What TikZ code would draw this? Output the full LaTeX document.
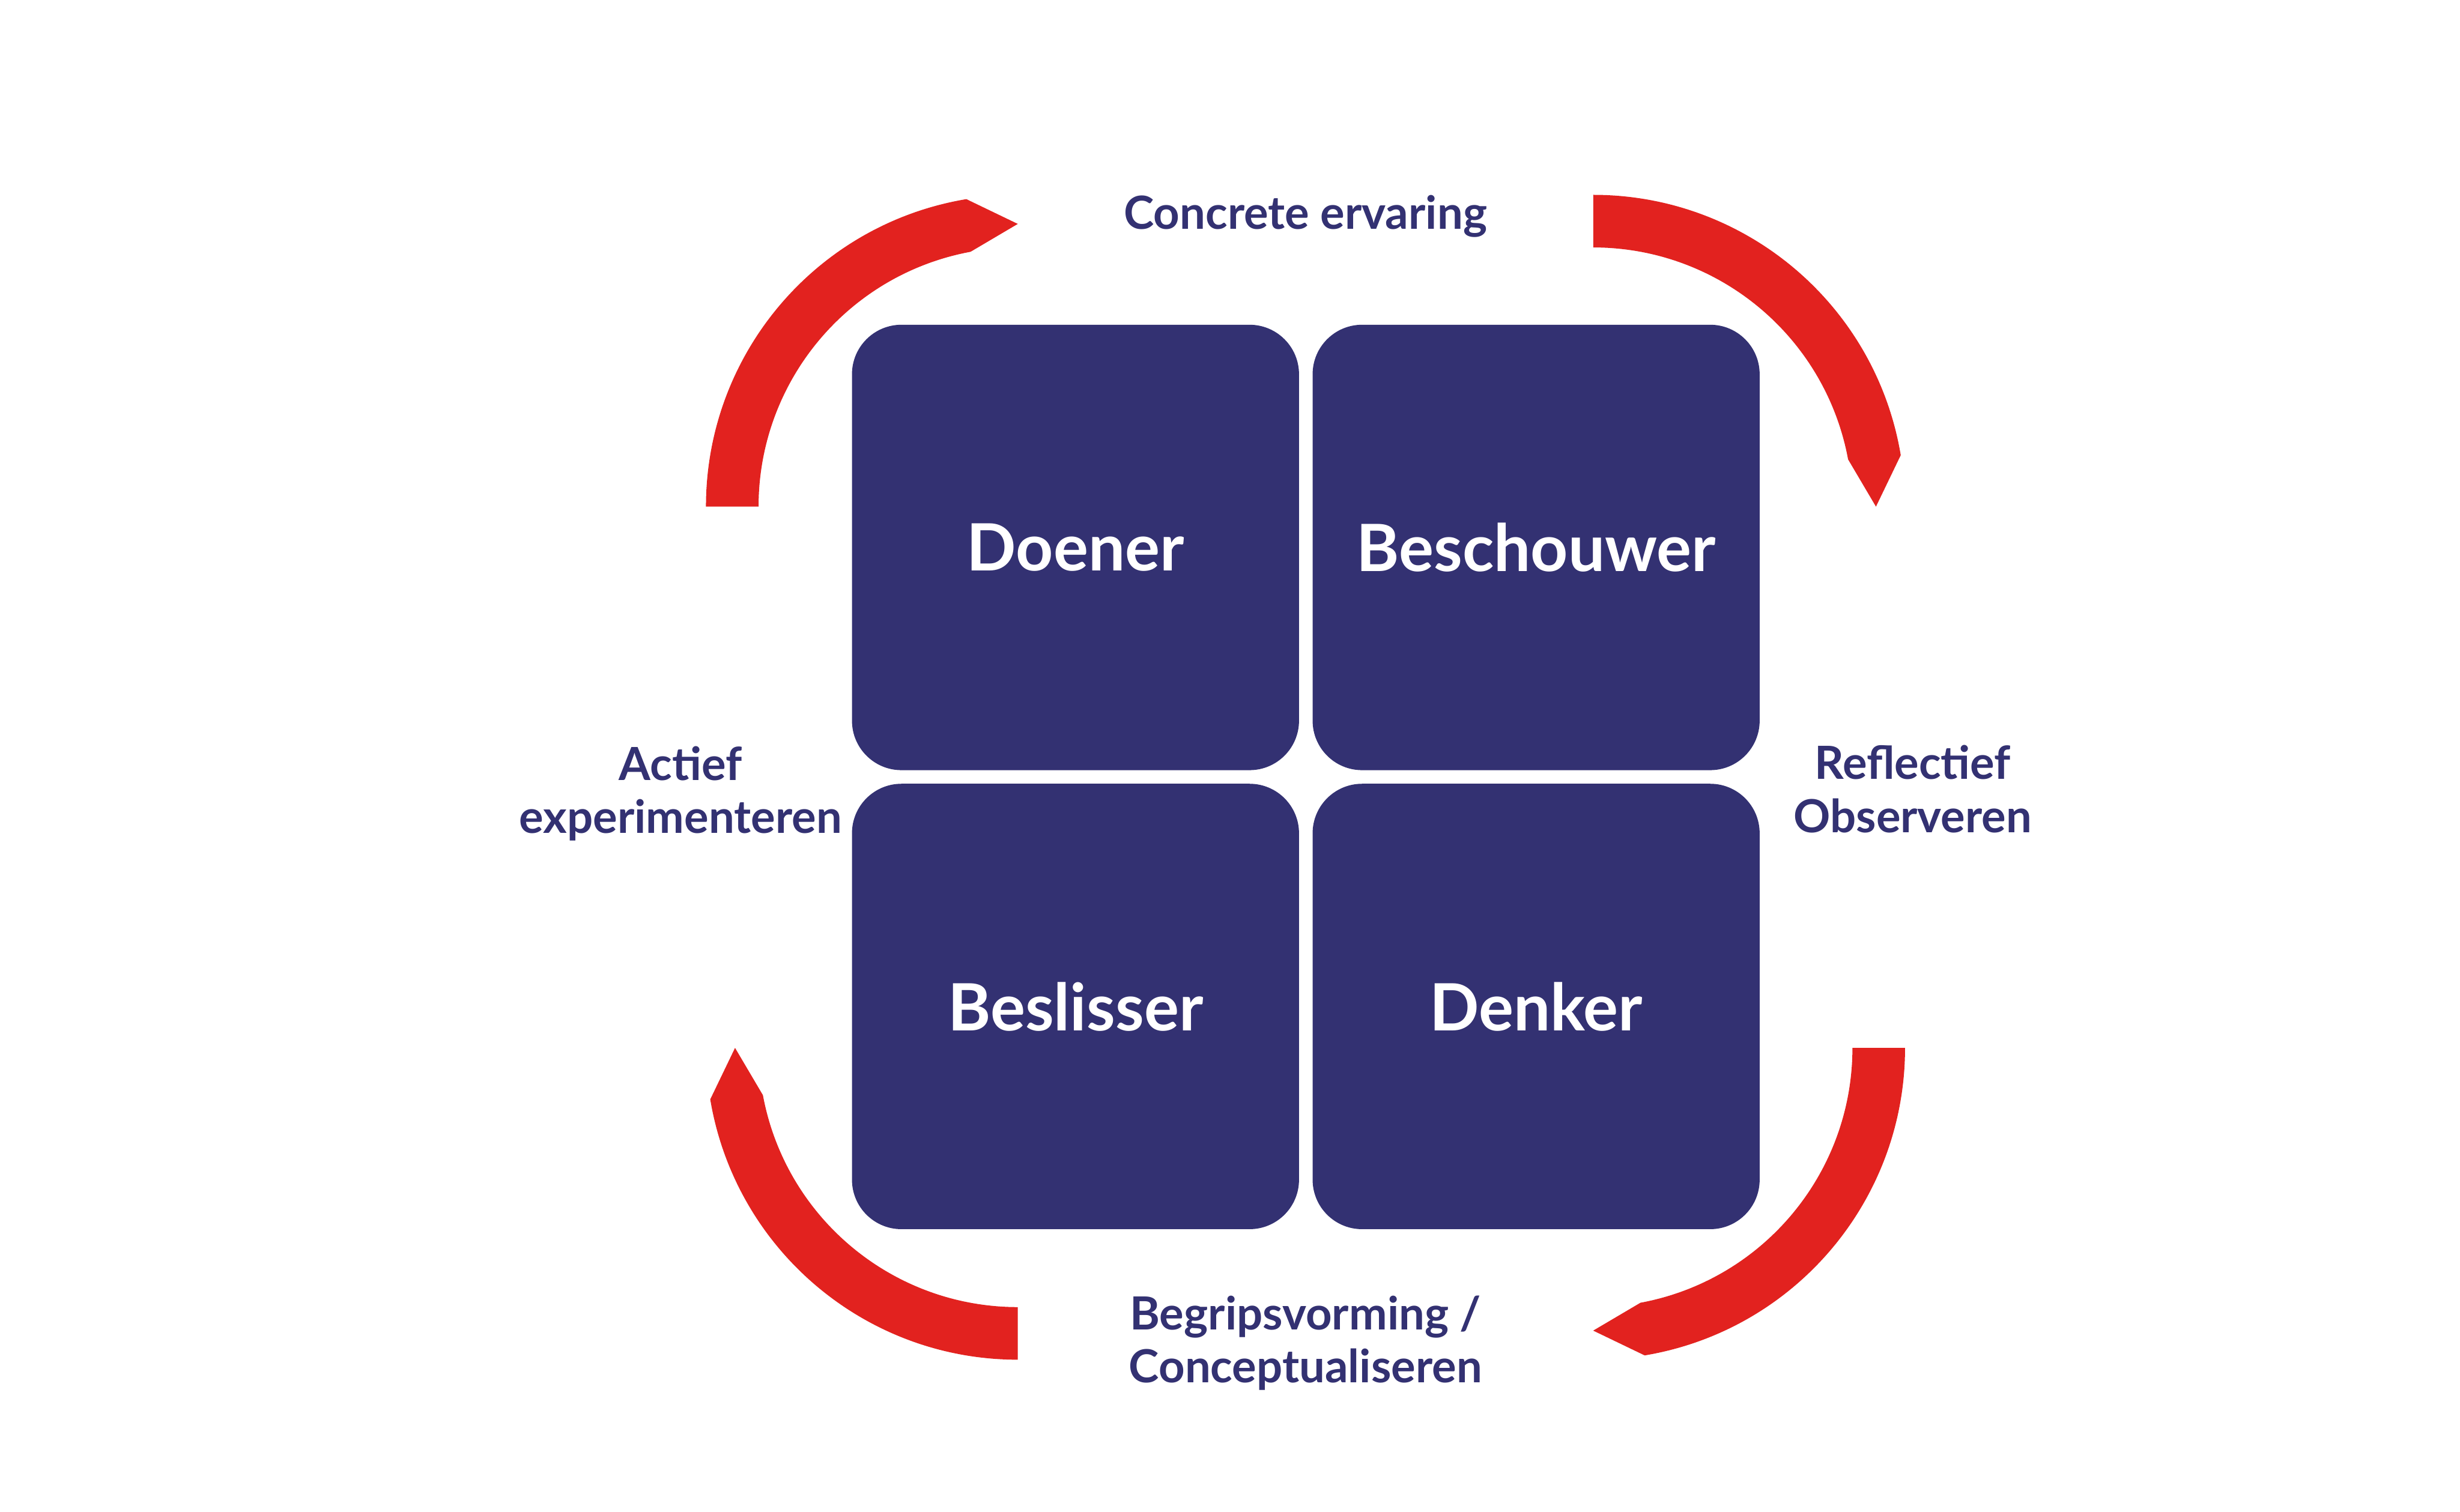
\documentclass[tikz,border=0pt]{standalone}
\usepackage{fontspec}
\setmainfont{Lato}
\usepackage{xcolor}
\usepackage{tikz}
\usetikzlibrary{positioning, calc}
\definecolor{kolbnavy}{HTML}{333172}
\definecolor{kolbred}{HTML}{E2221F}

\begin{document}
\begin{tikzpicture}[
        quadrant/.style={fill=kolbnavy, rounded corners=0.8cm, minimum width=7.225cm, minimum height=7.2cm, inner sep=0pt, outer sep=0pt, text=white, font=\fontsize{30}{36}\selectfont\bfseries},
        phase/.style={align=center, text=kolbnavy, font=\fontsize{21}{24.5}\selectfont\bfseries},
        cyclearc/.style={fill=kolbred}
    ]
        \useasboundingbox (0,0) rectangle (39.76,24.44);
        \fill[white] (0,0) rectangle (39.76,24.44);
        \coordinate (mid) at (21.10,11.875);

        \node (doener) [quadrant] at ($(mid)+(-3.7175,3.715)$) {Doener};
        \node (beschouwer) [quadrant, right=0.22cm of doener] {Beschouwer};
        \node (beslisser) [quadrant, below=0.22cm of doener] {Beslisser};
        \node (denker) [quadrant, right=0.22cm of beslisser] {Denker};

        \node (concrete) [phase] at ($(mid)+(0,9.065)$) {Concrete ervaring};
        \node (reflectief) [phase] at ($(mid)+(9.815,-0.19)$) {Reflectief\\Observeren};
        \node (begrip) [phase] at ($(mid)+(0,-9.145)$) {Begripsvorming /\\Conceptualiseren};
        \node (actief) [phase] at ($(mid)+(-10.1,-0.265)$) {Actief\\experimenteren};

        % centres of the four red arcs
        \coordinate (ctl) at ($(mid)+(-4.65,4.375)$);
        \coordinate (ctr) at ($(mid)+(4.65,4.375)$);
        \coordinate (cbr) at ($(mid)+(4.65,-4.375)$);
        \coordinate (cbl) at ($(mid)+(-4.65,-4.375)$);

        \fill[cyclearc] ($(ctl)+(180:5.04)$) arc[start angle=180, end angle=99.5, radius=5.04] -- ($(ctl)+(90:4.57)$) -- ($(ctl)+(100.5:4.19)$) arc[start angle=100.5, end angle=180, radius=4.19] -- cycle;
        \fill[cyclearc] ($(ctr)+(90:5.04)$) arc[start angle=90, end angle=9.5, radius=5.04] -- ($(ctr)+(0:4.57)$) -- ($(ctr)+(10.5:4.19)$) arc[start angle=10.5, end angle=90, radius=4.19] -- cycle;
        \fill[cyclearc] ($(cbr)+(0:5.04)$) arc[start angle=0, end angle=-80.5, radius=5.04] -- ($(cbr)+(-90:4.57)$) -- ($(cbr)+(-79.5:4.19)$) arc[start angle=-79.5, end angle=0, radius=4.19] -- cycle;
        \fill[cyclearc] ($(cbl)+(270:5.04)$) arc[start angle=270, end angle=189.5, radius=5.04] -- ($(cbl)+(180:4.57)$) -- ($(cbl)+(190.5:4.19)$) arc[start angle=190.5, end angle=270, radius=4.19] -- cycle;
\end{tikzpicture}
\end{document}
